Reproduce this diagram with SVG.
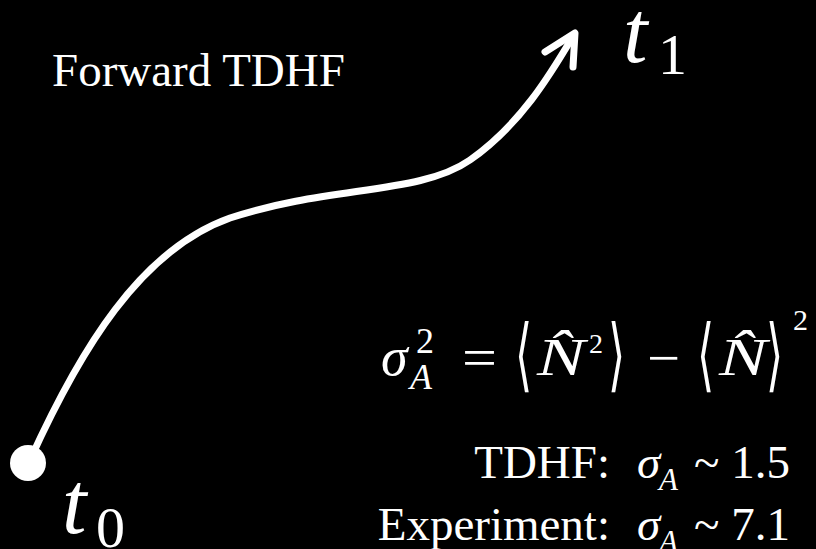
<svg xmlns="http://www.w3.org/2000/svg" width="816" height="549" viewBox="0 0 816 549">
<rect width="816" height="549" fill="#000"/>
<g id="connectors">
<path d="M30,460 C80,350 140,250 230,218 C330,185 420,195 470,160 C520,125 550,75 572,38" fill="none" stroke="#fff" stroke-width="7" stroke-linecap="round"/>
<path d="M545,52 L575,33 L573,67" fill="none" stroke="#fff" stroke-width="7" stroke-linecap="round" stroke-linejoin="round"/>
</g>
<g id="start">
<circle cx="28" cy="463" r="18" fill="#fff"/>
<text x="62" y="533" style="fill:#fff;font-family:'Liberation Serif',serif;font-size:88px;font-style:italic">t</text>
<text x="96" y="547" style="fill:#fff;font-family:'Liberation Serif',serif;font-size:58px">0</text>
</g>
<g id="end">
<text x="623" y="62" style="fill:#fff;font-family:'Liberation Serif',serif;font-size:88px;font-style:italic">t</text>
<text x="658" y="74" style="fill:#fff;font-family:'Liberation Serif',serif;font-size:58px">1</text>
</g>
<g id="label">
<text x="52" y="86" style="fill:#fff;font-family:'Liberation Serif',serif;font-size:47px">Forward TDHF</text>
</g>
<g id="formula">
<text x="381" y="375" style="fill:#fff;font-family:'Liberation Serif',serif;font-size:54px;font-style:italic">σ</text>
<text x="416" y="353" style="fill:#fff;font-family:'Liberation Serif',serif;font-size:36px">2</text>
<text x="410" y="389" style="fill:#fff;font-family:'Liberation Serif',serif;font-size:36px;font-style:italic">A</text>
<text x="462" y="376" textLength="35" lengthAdjust="spacingAndGlyphs" style="fill:#fff;font-family:'Liberation Serif',serif;font-size:54px">=</text>
<text transform="translate(515,382) scale(0.55,1)" style="fill:#fff;font-family:'DejaVu Sans',sans-serif;font-size:80px">⟨</text>
<text x="537" y="375" textLength="48" lengthAdjust="spacingAndGlyphs" style="fill:#fff;font-family:'Liberation Serif',serif;font-size:52px;font-style:italic">N̂</text>
<text x="589" y="353" style="fill:#fff;font-family:'Liberation Serif',serif;font-size:28px">2</text>
<text transform="translate(608,382) scale(0.55,1)" style="fill:#fff;font-family:'DejaVu Sans',sans-serif;font-size:80px">⟩</text>
<text x="647" y="376" textLength="33" lengthAdjust="spacingAndGlyphs" style="fill:#fff;font-family:'Liberation Serif',serif;font-size:54px">−</text>
<text transform="translate(697,382) scale(0.55,1)" style="fill:#fff;font-family:'DejaVu Sans',sans-serif;font-size:80px">⟨</text>
<text x="719" y="375" textLength="48" lengthAdjust="spacingAndGlyphs" style="fill:#fff;font-family:'Liberation Serif',serif;font-size:52px;font-style:italic">N̂</text>
<text transform="translate(766,382) scale(0.55,1)" style="fill:#fff;font-family:'DejaVu Sans',sans-serif;font-size:80px">⟩</text>
<text x="793" y="330" style="fill:#fff;font-family:'Liberation Serif',serif;font-size:30px">2</text>
</g>
<g id="results">
<text x="610" y="478" text-anchor="end" style="fill:#fff;font-family:'Liberation Serif',serif;font-size:47px">TDHF:</text>
<text x="637" y="478" style="fill:#fff;font-family:'Liberation Serif',serif;font-size:47px;font-style:italic">σ</text>
<text x="659" y="490" style="fill:#fff;font-family:'Liberation Serif',serif;font-size:31px;font-style:italic">A</text>
<text x="694" y="478" style="fill:#fff;font-family:'Liberation Serif',serif;font-size:47px">~ 1.5</text>
<text x="610" y="540" text-anchor="end" style="fill:#fff;font-family:'Liberation Serif',serif;font-size:47px">Experiment:</text>
<text x="637" y="540" style="fill:#fff;font-family:'Liberation Serif',serif;font-size:47px;font-style:italic">σ</text>
<text x="659" y="552" style="fill:#fff;font-family:'Liberation Serif',serif;font-size:31px;font-style:italic">A</text>
<text x="694" y="540" style="fill:#fff;font-family:'Liberation Serif',serif;font-size:47px">~ 7.1</text>
</g>
</svg>
